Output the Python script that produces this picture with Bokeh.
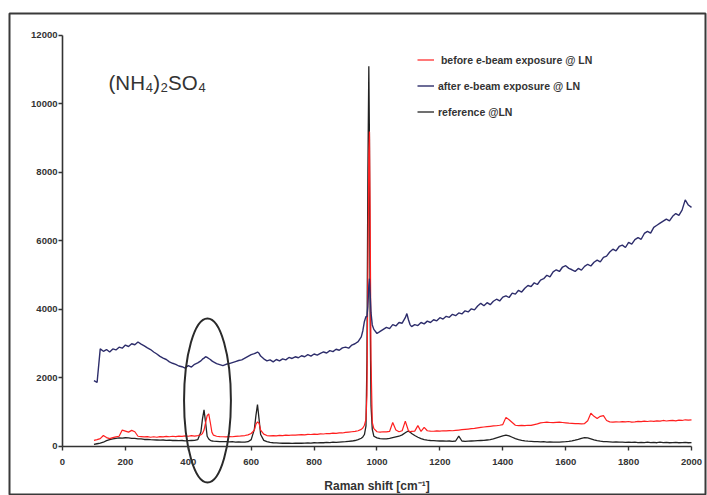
from bokeh.plotting import figure
from bokeh.models import Range1d, LinearAxis, FixedTicker, Legend, LegendItem, Label
from bokeh.embed import file_html
from bokeh.resources import INLINE

# ---------------- data ----------------
raman_shift = [
    100, 110, 120, 130, 140, 150, 160, 170, 180, 190,
    200, 210, 220, 230, 240, 250, 260, 270, 280, 290,
    300, 310, 320, 330, 340, 350, 360, 370, 380, 390,
    400, 410, 420, 430, 440, 445, 450, 455, 460, 465, 470, 475, 480, 490,
    500, 510, 520, 530, 540, 550, 560, 570, 580, 590,
    600, 610, 615, 620, 625, 630, 640, 650, 660, 670, 680, 690,
    700, 710, 720, 730, 740, 750, 760, 770, 780, 790,
    800, 810, 820, 830, 840, 850, 860, 870, 880, 890,
    900, 910, 920, 930, 940, 950, 955, 960, 965, 968, 971, 974, 976, 978, 981, 985, 990,
    1000, 1010, 1020, 1030, 1040, 1050, 1060, 1070, 1080, 1090, 1095,
    1100, 1105, 1110, 1120, 1130, 1140, 1150, 1160, 1170, 1180, 1190,
    1200, 1210, 1220, 1230, 1240, 1250, 1260, 1270, 1280, 1290,
    1300, 1310, 1320, 1330, 1340, 1350, 1360, 1370, 1380, 1390,
    1400, 1410, 1420, 1430, 1440, 1450, 1460, 1470, 1480, 1490,
    1500, 1510, 1520, 1530, 1540, 1550, 1560, 1570, 1580, 1590,
    1600, 1610, 1620, 1630, 1640, 1650, 1660, 1670, 1680, 1690,
    1700, 1710, 1720, 1730, 1740, 1750, 1760, 1770, 1780, 1790,
    1800, 1810, 1820, 1830, 1840, 1850, 1860, 1870, 1880, 1890,
    1900, 1910, 1920, 1930, 1940, 1950, 1960, 1970, 1980, 1990,
    2000,
]

before_ebeam = [
    180, 200, 230, 320, 260, 230, 260, 280, 300, 480,
    450, 420, 470, 430, 300, 290, 280, 290, 270, 285,
    270, 290, 280, 295, 285, 300, 290, 305, 295, 310,
    300, 315, 305, 320, 340, 380, 480, 700, 900, 950, 700, 420, 330, 300,
    290, 285, 280, 290, 285, 295, 300, 310, 320, 340,
    380, 480, 650, 720, 680, 480, 360, 320, 310, 320, 310, 325,
    320, 330, 325, 335, 330, 340, 345, 340, 355, 350,
    360, 355, 370, 365, 380, 375, 390, 385, 400, 395,
    410, 420, 430, 440, 460, 500, 540, 620, 800, 1500, 5000, 8500, 9200, 7000, 2500, 700, 520,
    430, 420, 430, 425, 440, 700, 480, 430, 460, 740, 600,
    460, 430, 440, 450, 610, 440, 560, 460, 450, 445, 455,
    450, 460, 455, 465, 460, 470, 480, 490, 500, 510,
    520, 530, 545, 560, 570, 580, 590, 600, 605, 620,
    640, 850, 780, 700, 620, 610, 615, 610, 620, 615,
    640, 660, 690, 700, 710, 700, 695, 705, 710, 700,
    690, 680, 675, 670, 665, 660, 670, 750, 970, 880,
    820, 880, 900, 760, 720, 710, 720, 715, 725, 720,
    730, 710, 720, 735, 725, 740, 730, 745, 735, 750,
    740, 760, 745, 755, 765, 750, 770, 760, 780, 770,
    780,
]

after_ebeam = [
    1920, 1870, 2850, 2780, 2830, 2760, 2850, 2820, 2900, 2870,
    2960, 2920, 3000, 2970, 3050, 2990, 2940, 2880, 2830, 2760,
    2700, 2630, 2580, 2540, 2470, 2430, 2400, 2350, 2330, 2290,
    2360, 2320, 2400, 2440, 2500, 2550, 2580, 2620, 2600, 2570, 2540, 2500, 2470, 2420,
    2390, 2360, 2400, 2420, 2450, 2480, 2510, 2530, 2580, 2630,
    2680, 2710, 2730, 2760, 2720, 2640, 2560, 2500, 2530, 2470, 2540, 2500,
    2560, 2530, 2600, 2570, 2620, 2590, 2650, 2620, 2680, 2640,
    2700, 2670, 2720, 2760, 2730, 2800, 2770, 2840, 2810, 2880,
    2900, 2870, 2960, 3000, 3060, 3200, 3380, 3650, 3800, 3780, 4100, 4700, 4900, 4500, 3900, 3550, 3420,
    3300, 3360, 3420, 3480, 3440, 3560, 3520, 3620, 3600, 3760, 3880,
    3700, 3560, 3500, 3560, 3530, 3620, 3580, 3660, 3620, 3700, 3670,
    3760, 3720, 3800, 3770, 3860, 3820, 3900, 3870, 3960, 3930,
    4020, 3990, 4100, 4180, 4110, 4200, 4140, 4240, 4300, 4250,
    4360, 4400, 4350, 4480, 4450, 4560, 4510, 4620, 4700, 4670,
    4780, 4730, 4860, 4900, 5000, 4950, 5100, 5160, 5110, 5240,
    5280, 5200, 5160, 5110, 5200, 5150, 5260, 5320, 5270, 5380,
    5440, 5390, 5520, 5560, 5680, 5760, 5710, 5840, 5880, 5810,
    5960, 5910, 6040, 6100, 6050, 6220, 6280, 6230, 6400, 6460,
    6520, 6580, 6640, 6590, 6720, 6800, 6750, 6900, 7200, 7050,
    6980,
]

reference_ln = [
    60, 80, 100, 125, 170, 200, 225, 240, 250, 245,
    255, 250, 240, 235, 225, 220, 205, 210, 200, 195,
    190, 185, 190, 180, 185, 175, 180, 170, 175, 165,
    170, 175, 180, 200, 420, 800, 1070, 700, 300, 220, 180, 160, 155, 150,
    145, 140, 145, 135, 140, 130, 135, 125, 130, 140,
    200, 500, 900, 1225, 800, 350, 180, 140, 120, 110, 105, 100,
    95, 100, 95, 90, 95, 100, 95, 100, 105, 100,
    110, 105, 115, 110, 120, 115, 125, 120, 130, 135,
    140, 150, 160, 175, 200, 240, 280, 350, 600, 2500, 8000, 11100, 9000, 4000, 1200, 500, 300,
    250, 230, 220, 225, 240, 260, 280, 300, 340, 400, 430,
    450, 420, 380, 320, 270, 230, 200, 185, 175, 170, 165,
    160, 165, 155, 160, 150, 160, 300, 160, 150, 155,
    160, 165, 170, 175, 180, 190, 200, 220, 250, 280,
    310, 330, 310, 270, 230, 200, 180, 165, 155, 150,
    145, 140, 135, 140, 130, 135, 130, 125, 130, 135,
    140, 150, 165, 185, 210, 240, 260, 250, 220, 190,
    170, 155, 145, 140, 135, 130, 135, 125, 130, 120,
    125, 120, 125, 115, 120, 115, 125, 115, 120, 110,
    125, 115, 120, 110, 115, 120, 110, 115, 120, 110,
    115,
]

series_labels = [" before e-beam exposure @ LN", "after e-beam exposure @ LN", "reference @LN"]
x_ticks = [0, 200, 400, 600, 800, 1000, 1200, 1400, 1600, 1800, 2000]
y_ticks = [0, 2000, 4000, 6000, 8000, 10000, 12000]
title_text = "(NH\u2084)\u2082SO\u2084"
x_title = "Raman shift [cm\u207b\u00b9]"

# highlighted region (hand-drawn ellipse in the original)
highlight_center = (461, 1343)
highlight_size = (149, 4790)

# ---------------- styling ----------------
FONT = "Liberation Sans"
AXIS_COLOR = "#333333"
RED = "#ff1f1f"
NAVY = "#2d2d6b"
BLACK = "#222222"

p = figure(width=707, height=495, output_backend="svg", toolbar_location=None,
           x_axis_type=None, y_axis_type=None,
           x_range=Range1d(-168.5, 2044.5), y_range=Range1d(-1430.7, 12642),
           min_border_left=9, min_border_right=2, min_border_top=13, min_border_bottom=0,
           outline_line_color="#3a3a3a", outline_line_width=2,
           background_fill_color="white", border_fill_color="white")

r_ref = p.line(raman_shift, reference_ln, line_color=BLACK, line_width=1.3)
r_before = p.line(raman_shift, before_ebeam, line_color=RED, line_width=1.2)
r_after = p.line(raman_shift, after_ebeam, line_color=NAVY, line_width=1.4)

p.ellipse(x=[highlight_center[0]], y=[highlight_center[1]],
          width=[highlight_size[0]], height=[highlight_size[1]],
          fill_color=None, line_color="#2a2a2a", line_width=2)

def style_axis(ax):
    ax.axis_line_color = AXIS_COLOR
    ax.axis_line_width = 1.6
    ax.major_tick_line_color = AXIS_COLOR
    ax.major_tick_line_width = 1.4
    ax.major_tick_out = 4
    ax.major_tick_in = 0
    ax.minor_tick_line_color = None
    ax.major_label_text_font = FONT
    ax.major_label_text_font_size = "9.5px"
    ax.major_label_text_font_style = "bold"
    ax.major_label_text_color = AXIS_COLOR

xaxis = LinearAxis(fixed_location=0, bounds=(0, 2000), ticker=FixedTicker(ticks=x_ticks),
                   axis_label=x_title)
style_axis(xaxis)
xaxis.major_label_standoff = 9
xaxis.axis_label_text_font = FONT
xaxis.axis_label_text_font_size = "12px"
xaxis.axis_label_text_font_style = "bold"
xaxis.axis_label_text_color = AXIS_COLOR
xaxis.axis_label_standoff = 10
p.add_layout(xaxis, "below")

yaxis = LinearAxis(fixed_location=0, bounds=(0, 12000), ticker=FixedTicker(ticks=y_ticks))
style_axis(yaxis)
yaxis.major_label_standoff = 1
p.add_layout(yaxis, "left")

legend = Legend(items=[LegendItem(label=series_labels[0], renderers=[r_before]),
                       LegendItem(label=series_labels[1], renderers=[r_after]),
                       LegendItem(label=series_labels[2], renderers=[r_ref])],
                location=(408, 375), padding=0, margin=0, spacing=9,
                glyph_width=17, glyph_height=17, label_height=17, label_standoff=4,
                label_text_font=FONT, label_text_font_size="10.5px", label_text_font_style="bold",
                label_text_color=AXIS_COLOR, background_fill_alpha=0, border_line_alpha=0)
p.add_layout(legend)

p.add_layout(Label(x=99, y=413, x_units="screen", y_units="screen", text=title_text,
                   text_font=FONT, text_font_size="20.5px", text_color="#333333",
                   text_baseline="alphabetic"))

open("out.html", "w").write(file_html(p, INLINE))
